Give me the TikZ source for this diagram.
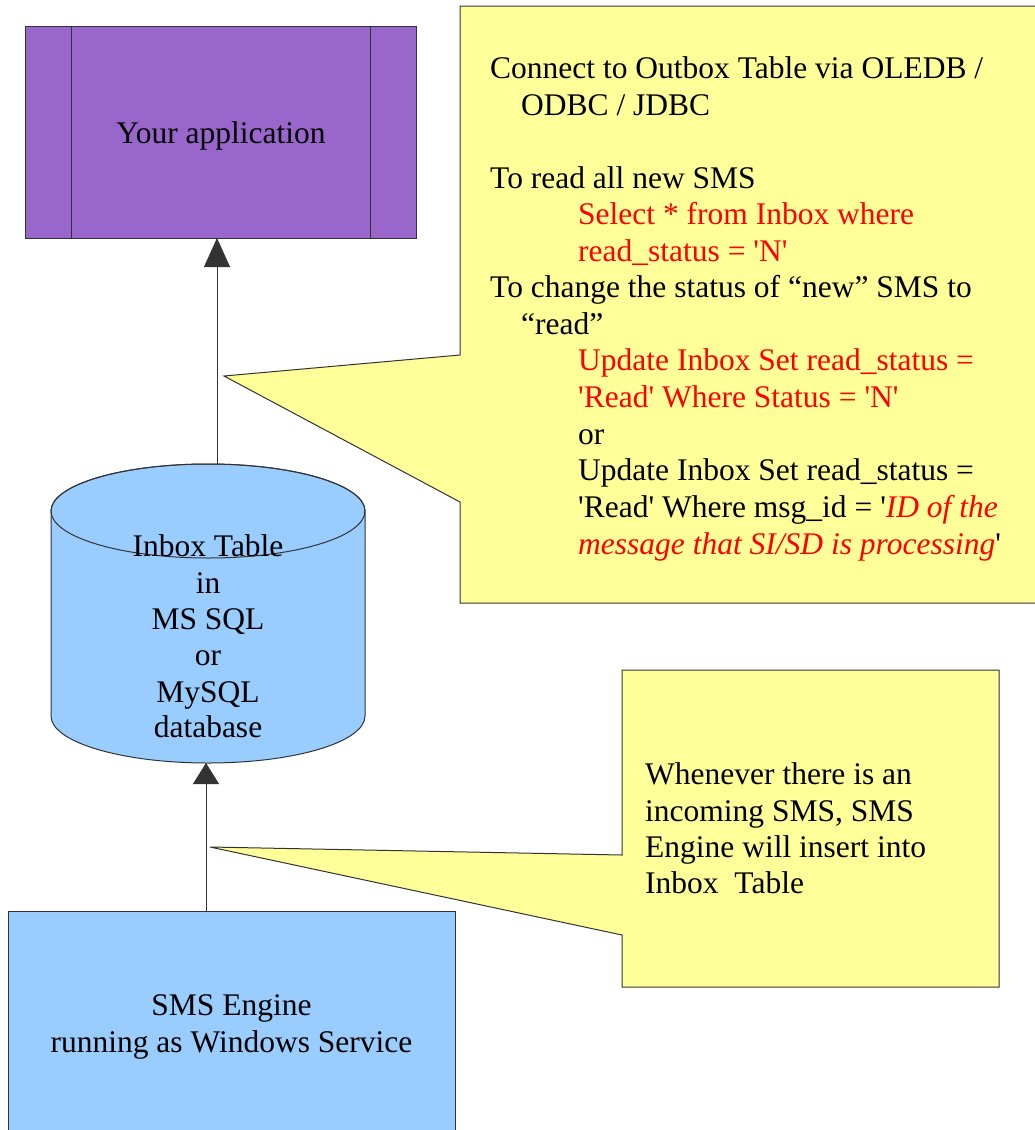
\documentclass[tikz,border=0pt]{standalone}
\usepackage{fontspec}
\setmainfont{Liberation Serif}[Ligatures=TeX]
\newfontfamily\dgserif{Liberation Serif}
\usetikzlibrary{arrows.meta}
\newcommand\dgfont{\dgserif\fontsize{31.5}{36.5}\selectfont}
\newcommand\stq{\textquotesingle}
\definecolor{apppurple}{HTML}{9966CC}
\definecolor{dbblue}{HTML}{99CCFF}
\definecolor{noteyellow}{HTML}{FFFF99}
\definecolor{sqlred}{HTML}{FF0000}
\definecolor{edge}{HTML}{333333}
\begin{document}
\begin{tikzpicture}[x=1pt,y=-1pt,
  txt/.style={inner sep=0pt, font=\dgfont, text=black},
  redtxt/.style={txt, text=sqlred},
  outline/.style={draw=edge, line width=1pt},
  conn/.style={draw=black!80, line width=0.9pt},
  bighead/.style={-{Triangle[width=26pt,length=29pt]}},
  smallhead/.style={-{Triangle[width=26pt,length=21pt]}},
  hold/.style={inner sep=0pt, outer sep=0pt, draw=none}]
\useasboundingbox (0,0) rectangle (1034,1130);

% ---- callouts (drawn first)
\path[outline, fill=noteyellow] (460,6) -- (1045,6) -- (1045,603) -- (460,603)
   -- (460,502) -- (224,376) -- (460,355) -- cycle;
\path[outline, fill=noteyellow] (622,670) -- (999,670) -- (999,987) -- (622,987)
   -- (622,935) -- (210,847) -- (622,855) -- cycle;

% ---- Your application
\node[hold, minimum width=391pt, minimum height=212pt, fill=apppurple, draw=edge, line width=1pt] (app) at (220.5,132) {};
\draw[edge, line width=0.8pt] (71,26) -- (71,238) (370,26) -- (370,238);
\node[txt, anchor=base] (apptext) at (221,143) {Your application};

% ---- database cylinder
\node[hold, minimum width=314pt, minimum height=299pt] (db) at (208,613.5) {};
\path[outline, fill=dbblue] (51,511) -- (51,716)
   arc[start angle=180, end angle=0, x radius=157, y radius=47]
   -- (365,511)
   arc[start angle=0, end angle=-180, x radius=157, y radius=47] -- cycle;
\draw[edge, line width=1pt] (208,511) ellipse [x radius=157, y radius=47];
\node[txt, anchor=base] (db1) at (208,556) {Inbox Table};
\node[txt, anchor=base] (db2) at (208,593) {in};
\node[txt, anchor=base] (db3) at (208,629) {MS SQL};
\node[txt, anchor=base] (db4) at (208,665) {or};
\node[txt, anchor=base] (db5) at (208,702) {MySQL};
\node[txt, anchor=base] (db6) at (208,737) {database};

% ---- SMS engine
\node[hold, minimum width=447pt, minimum height=239pt, fill=dbblue, draw=edge, line width=1pt] (engine) at (231.5,1030.5) {};
\node[txt, anchor=base] (eng1) at (231.5,1015) {SMS Engine};
\node[txt, anchor=base] (eng2) at (231.5,1052) {running as Windows Service};

% ---- connectors
\coordinate (upx) at (217,0);
\coordinate (lowx) at (206,0);
\draw[conn, bighead] (db.north -| upx) -- (app.south -| upx);
\draw[conn, smallhead] (engine.north -| lowx) -- (db.south -| lowx);

% ---- big callout text
\node[txt, anchor=base west] (t1) at (490,78) {Connect to Outbox Table via OLEDB /};
\node[txt, anchor=base west] (t2) at (521,115) {ODBC / JDBC};
\node[txt, anchor=base west] (t3) at (490,188) {To read all new SMS};
\node[redtxt, anchor=base west] (t4) at (578,224) {Select * from Inbox where};
\node[redtxt, anchor=base west] (t5) at (578,261) {read\_status = \stq N\stq};
\node[txt, anchor=base west] (t6) at (490,297) {To change the status of “new” SMS to};
\node[txt, anchor=base west] (t7) at (521,334) {“read”};
\node[redtxt, anchor=base west] (t8) at (578,370) {Update Inbox Set read\_status =};
\node[redtxt, anchor=base west] (t9) at (578,407) {\stq Read\stq\ Where Status = \stq N\stq};
\node[txt, anchor=base west] (t10) at (578,444) {or};
\node[txt, anchor=base west] (t11) at (578,480) {Update Inbox Set read\_status =};
\node[txt, anchor=base west] (t12) at (578,517) {\stq Read\stq\ Where msg\_id = \stq\textcolor{sqlred}{\itshape ID of the}};
\node[txt, anchor=base west] (t13) at (578,554) {\textcolor{sqlred}{\itshape message that SI/SD is processing}\stq};

% ---- small callout text
\node[txt, anchor=base west] (s1) at (645,784) {Whenever there is an};
\node[txt, anchor=base west] (s2) at (645,821) {incoming SMS, SMS};
\node[txt, anchor=base west] (s3) at (645,857) {Engine will insert into};
\node[txt, anchor=base west] (s4) at (645,893) {Inbox\ \ Table};
\end{tikzpicture}
\end{document}
